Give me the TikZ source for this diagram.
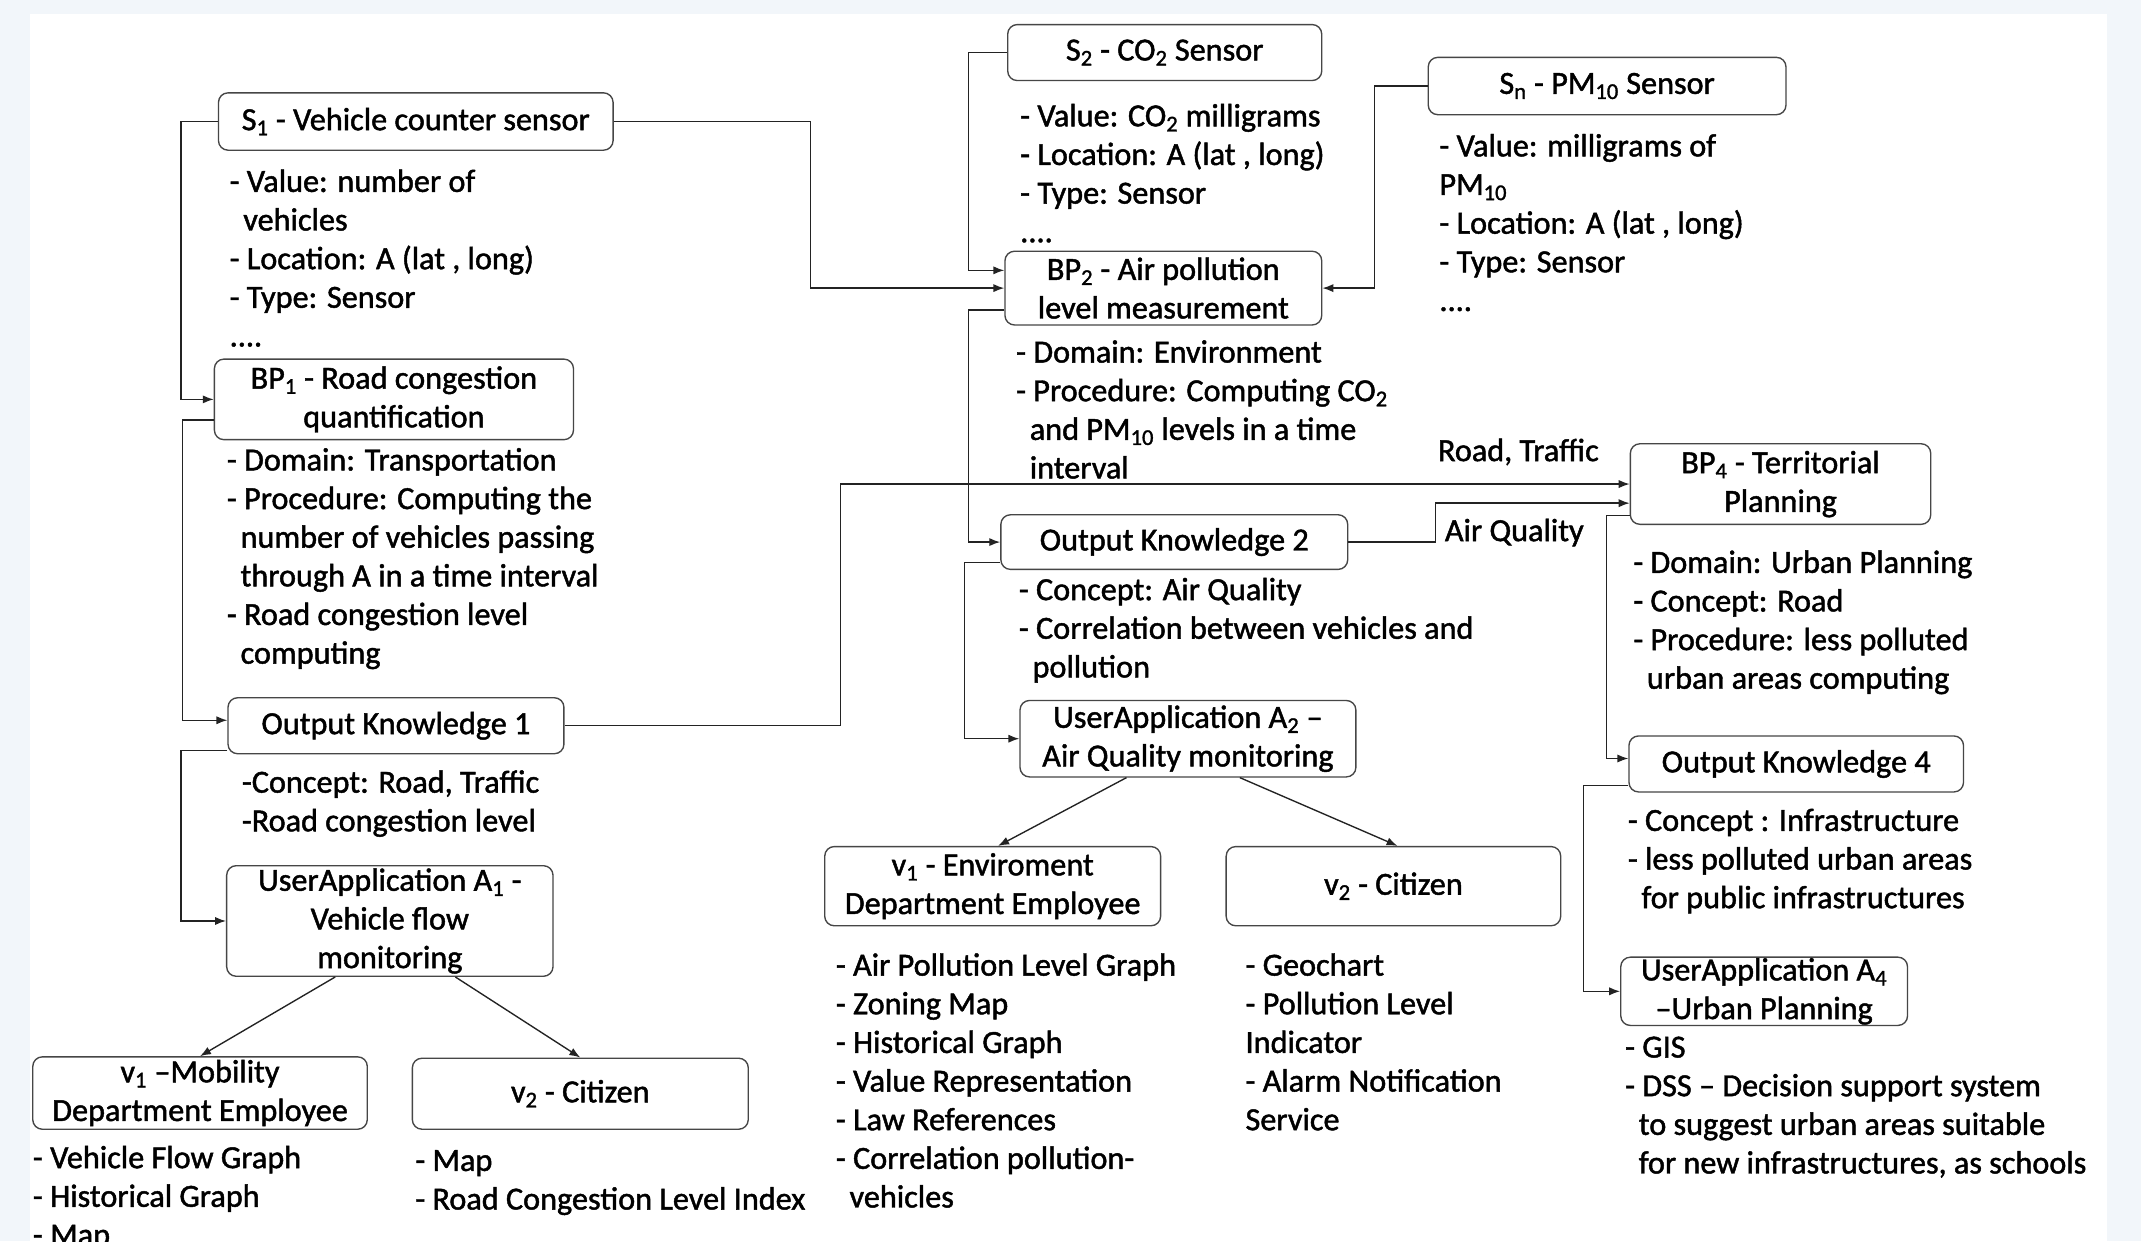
\documentclass[tikz,border=0pt]{standalone}
\usepackage{fontspec}
\setmainfont{Carlito}[BoldFont={Carlito}, BoldFeatures={FakeBold=1.4}]
\usetikzlibrary{arrows.meta}

\definecolor{pagebg}{RGB}{242,246,250}
\definecolor{boxgray}{RGB}{70,70,70}
\definecolor{linegray}{RGB}{35,35,35}

\newcommand{\sbs}[1]{\textsubscript{#1}}
\newcommand{\ind}{\hspace*{10pt}}
\newcommand{\boxfont}{\fontsize{23.6}{28.3}\selectfont\bfseries}

\tikzset{
  box/.style={draw=boxgray, line width=1pt, rounded corners=7pt, fill=white,
    align=center, inner sep=0pt, font=\boxfont},
  attr/.style={anchor=north west, align=left, inner sep=0pt, font=\boxfont},
  link/.style={draw=linegray, line width=1pt, ->},
}

\begin{document}
\begin{tikzpicture}[x=1pt, y=-1pt, >={Latex[length=8pt,width=6pt]}]
    \useasboundingbox (0,0) rectangle (1568,909);
    \fill[pagebg] (0,0) rectangle (1568,909);
    \fill[white] (22,10) rectangle (1543,909);

    % transportation side
    \node[box, minimum width=289pt, minimum height=42pt] (s1) at (304.5,89) {S\sbs{1} - Vehicle counter sensor};
    \node[attr] (s1attr) at (168,120.5) {\strut- Value: number of\\\ind vehicles\\- Location: A (lat , long)\\- Type: Sensor\\....};
    \node[box, minimum width=263pt, minimum height=59pt] (bp1) at (288.5,292.5) {BP\sbs{1} - Road congestion\\quantification};
    \node[attr] (bp1attr) at (166,324.5) {\strut- Domain: Transportation\\- Procedure: Computing  the\\\ind number of vehicles passing\\\ind through A in a time interval\\- Road congestion level\\\ind computing};
    \node[box, minimum width=246pt, minimum height=41pt] (ok1) at (290,531.5) {Output Knowledge 1};
    \node[attr] (ok1attr) at (177,560.5) {\strut-Concept: Road, Traffic\\-Road congestion level};
    \node[box, minimum width=239pt, minimum height=81pt] (ua1) at (285.5,674.5) {UserApplication A\sbs{1} -\\Vehicle flow\\monitoring};
    \node[box, minimum width=245pt, minimum height=53pt] (v1m) at (146.5,800.5) {v\sbs{1} –Mobility\\Department Employee};
    \node[attr] (v1mattr) at (24,835.5) {\strut- Vehicle Flow Graph\\- Historical Graph\\- Map};
    \node[box, minimum width=246pt, minimum height=52pt] (v2c) at (425,801) {v\sbs{2} - Citizen};
    \node[attr] (v2cattr) at (304,837.5) {\strut- Map\\- Road Congestion Level Index};

    % environment side
    \node[box, minimum width=230pt, minimum height=41pt] (s2) at (853,38.5) {S\sbs{2} - CO\sbs{2} Sensor};
    \node[attr] (s2attr) at (747,72.5) {\strut- Value: CO\sbs{2} milligrams\\- Location: A (lat , long)\\- Type: Sensor\\....};
    \node[box, minimum width=262pt, minimum height=42pt] (sn) at (1177,63) {S\sbs{n} - PM\sbs{10} Sensor};
    \node[attr] (snattr) at (1054,94.5) {\strut- Value: milligrams of\\PM\sbs{10}\\- Location: A (lat , long)\\- Type: Sensor\\....};
    \node[box, minimum width=232pt, minimum height=54pt] (bp2) at (852,211) {BP\sbs{2} - Air pollution\\level measurement};
    \node[attr] (bp2attr) at (744,245.5) {\strut- Domain: Environment\\- Procedure: Computing CO\sbs{2}\\\ind and PM\sbs{10} levels in a time\\\ind interval};
    \node[box, minimum width=254pt, minimum height=40pt] (ok2) at (860,397) {Output  Knowledge 2};
    \node[attr] (ok2attr) at (746,419.5) {\strut- Concept: Air Quality\\- Correlation between vehicles and\\\ind pollution};
    \node[box, minimum width=246pt, minimum height=56pt] (ua2) at (870,541) {UserApplication A\sbs{2} –\\Air Quality monitoring};
    \node[box, minimum width=246pt, minimum height=58pt] (v1e) at (727,649) {v\sbs{1} - Enviroment\\Department Employee};
    \node[attr] (v1eattr) at (612,694.5) {\strut- Air Pollution Level Graph\\- Zoning Map\\- Historical Graph\\- Value Representation\\- Law References\\- Correlation pollution-\\\ind vehicles};
    \node[box, minimum width=245pt, minimum height=58pt] (v2e) at (1020.5,649) {v\sbs{2} - Citizen};
    \node[attr] (v2eattr) at (912,694.5) {\strut- Geochart\\- Pollution Level\\Indicator\\- Alarm Notification\\Service};

    % planning side
    \node[box, minimum width=220pt, minimum height=59pt] (bp4) at (1304,354.5) {BP\sbs{4} - Territorial\\Planning};
    \node[attr] (bp4attr) at (1196,399.5) {\strut- Domain: Urban Planning\\- Concept: Road\\- Procedure: less polluted\\\ind urban areas computing};
    \node[box, minimum width=245pt, minimum height=41pt] (ok4) at (1315.5,559.5) {Output Knowledge 4};
    \node[attr] (ok4attr) at (1192,588.5) {\strut- Concept : Infrastructure\\- less polluted urban areas\\\ind for public infrastructures};
    \node[box, minimum width=210pt, minimum height=50pt] (ua4) at (1292,726) {UserApplication A\sbs{4}\\ –Urban Planning};
    \node[attr] (ua4attr) at (1190,754.5) {\strut- GIS\\- DSS – Decision support system\\\ind to suggest urban areas suitable\\\ind for new infrastructures, as schools};

    \node[inner sep=0pt, font=\boxfont] (rtlabel) at (1112,331) {Road, Traffic};
    \node[inner sep=0pt, font=\boxfont, anchor=west] (aqlabel) at (1058,390) {Air Quality};

    % connectors
    \draw[link] (s1.west) -- ++(-27,0) |- (bp1.west);
    \draw[link] ([yshift=-15pt]bp1.west) -- ++(-23,0) |- ([yshift=4pt]ok1.west);
    \draw[link] ([yshift=-18pt]ok1.west) -- ++(-34,0) |- (ua1.west);
    \draw[link] ([xshift=-40pt]ua1.south) -- (v1m.north);
    \draw[link] ([xshift=48pt]ua1.south) -- (v2c.north);
    \draw[link] (s1.east) -- ++(144,0) |- (bp2.west);
    \draw[link] (s2.west) -- ++(-28,0) |- ([yshift=13pt]bp2.west);
    \draw[link] (sn.west) -- ++(-39,0) |- (bp2.east);
    \draw[link] ([yshift=-16pt]bp2.west) -- ++(-26,0) |- (ok2.west);
    \draw[link] ([yshift=-15pt]ok2.west) -- ++(-26,0) |- (ua2.west);
    \draw[link] ([xshift=-45pt]ua2.south) -- ([xshift=4pt]v1e.north);
    \draw[link] ([xshift=38pt]ua2.south) -- ([xshift=3pt]v2e.north);
    \draw[link] (ok1.east) -- ++(202,0) |- (bp4.west);
    \draw[link] (ok2.east) -- ++(64,0) |- ([yshift=-14pt]bp4.west);
    \draw[link] ([yshift=-23pt]bp4.west) -- ++(-17,0) |- ([yshift=4pt]ok4.west);
    \draw[link] ([yshift=-16pt]ok4.west) -- ++(-33,0) |- (ua4.west);
\end{tikzpicture}
\end{document}
